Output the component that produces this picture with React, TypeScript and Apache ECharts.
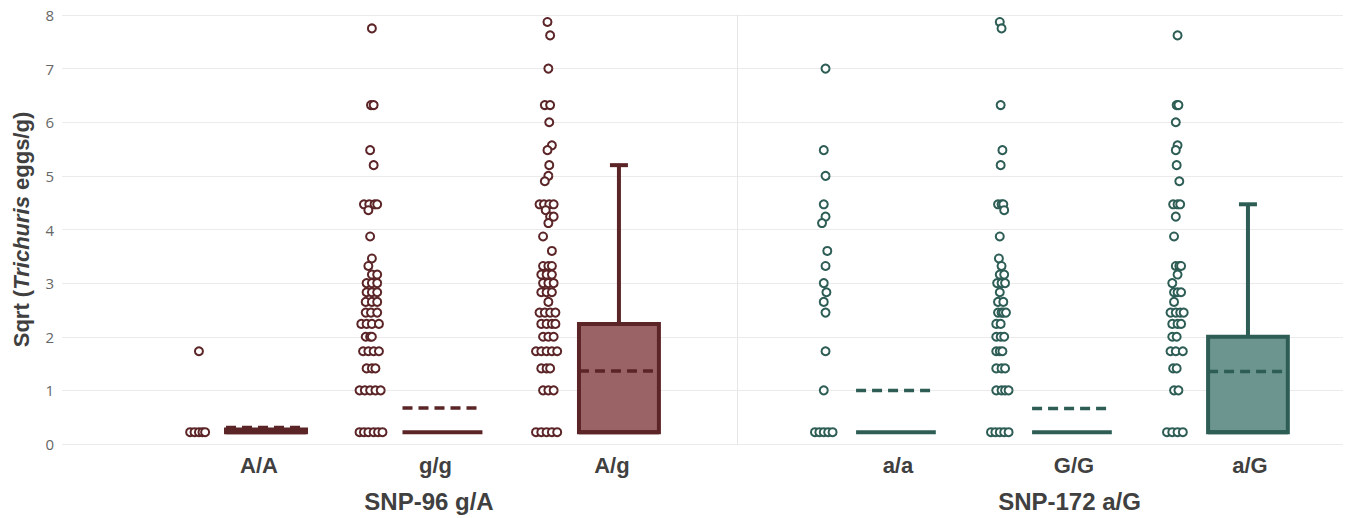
import React, { useEffect, useRef } from 'react';
import * as echarts from 'echarts';

// ---------- data ----------
const snp96Categories = ['A/A', 'g/g', 'A/g'];
const snp172Categories = ['a/a', 'G/G', 'a/G'];
const yTickMax = 8;

// box stats: [min, q1, median, q3, max, mean]
const snp96Boxes: number[][] = [
  [0.22, 0.22, 0.22, 0.27, 0.27, 0.31],
  [0.22, 0.22, 0.22, 0.22, 0.22, 0.67],
  [0.22, 0.22, 0.22, 2.24, 5.2, 1.36],
];
const snp172Boxes: number[][] = [
  [0.22, 0.22, 0.22, 0.22, 0.22, 1.0],
  [0.22, 0.22, 0.22, 0.22, 0.22, 0.66],
  [0.22, 0.22, 0.22, 2.0, 4.47, 1.35],
];

// points: [value, jitter offsets]
const ptsAA: [number, number[]][] = [
  [1.73, [0.02]],
  [0.22, [-0.03, -0.005, 0.02, 0.04, 0.055]],
];
const ptsgg: [number, number[]][] = [
  [7.75, [0]], [6.32, [-0.005, 0.01]], [5.48, [-0.01]], [5.2, [0.01]],
  [4.47, [-0.045, -0.015, 0.015, 0.03]], [4.36, [-0.02]], [3.87, [-0.01]],
  [3.46, [0.0]], [3.32, [-0.02]], [3.16, [0.0, 0.03]], [3.0, [-0.03, 0.0, 0.03]],
  [2.83, [-0.03, 0.0, 0.03]], [2.65, [-0.035, 0.0, 0.03]], [2.45, [-0.035, -0.005, 0.03]],
  [2.24, [-0.06, -0.03, 0.0, 0.04]], [2.0, [-0.035, -0.01, 0.0]],
  [1.73, [-0.05, -0.02, 0.01, 0.04]], [1.41, [-0.03, 0.0, 0.02]],
  [1.0, [-0.07, -0.04, -0.01, 0.02, 0.05]],
  [0.22, [-0.07, -0.045, -0.02, 0.01, 0.035, 0.06]],
];
const ptsAg: [number, number[]][] = [
  [7.87, [-0.005]], [7.62, [0.01]], [7.0, [0.0]], [6.32, [-0.02, 0.01]], [6.0, [0.005]],
  [5.57, [0.02]], [5.48, [-0.005]], [5.2, [0.005]], [5.0, [0.0]], [4.9, [-0.02]],
  [4.47, [-0.05, -0.025, 0.005, 0.03]], [4.36, [-0.015]], [4.24, [0.01, 0.03]], [4.12, [0.0]],
  [3.87, [-0.03]], [3.6, [0.02]], [3.32, [-0.03, 0.0, 0.02]], [3.16, [-0.04, -0.01, 0.02]],
  [3.0, [-0.03, 0.0, 0.03]], [2.83, [-0.04, -0.01, 0.02]], [2.65, [0.0]],
  [2.45, [-0.05, -0.02, 0.01, 0.04]], [2.24, [-0.04, -0.01, 0.02, 0.04]],
  [2.0, [-0.03, 0.0, 0.03]], [1.73, [-0.07, -0.04, -0.01, 0.02, 0.05]],
  [1.41, [-0.04, -0.01, 0.01]], [1.0, [-0.03, 0.0, 0.03]],
  [0.22, [-0.07, -0.04, -0.01, 0.02, 0.05]],
];
const ptsaa: [number, number[]][] = [
  [7.0, [0.0]], [5.48, [-0.01]], [5.0, [0.0]], [4.47, [-0.01]], [4.24, [0.0]], [4.12, [-0.02]],
  [3.6, [0.01]], [3.32, [0.0]], [3.0, [-0.01]], [2.83, [0.005]], [2.65, [-0.01]], [2.45, [0.0]],
  [1.73, [0.0]], [1.0, [-0.01]],
  [0.22, [-0.06, -0.035, -0.01, 0.015, 0.04]],
];
const ptsGG: [number, number[]][] = [
  [7.87, [-0.01]], [7.75, [0.0]], [6.32, [-0.005]], [5.48, [0.005]], [5.2, [-0.005]],
  [4.47, [-0.02, 0.0, 0.01]], [4.36, [0.015]], [3.87, [-0.01]], [3.46, [-0.015]], [3.32, [0.0]],
  [3.16, [-0.01, 0.015]], [3.0, [-0.025, 0.0, 0.02]], [2.83, [-0.01]], [2.65, [-0.02, 0.01]],
  [2.45, [-0.02, 0.0, 0.01, 0.025]], [2.24, [-0.03, -0.005]], [2.0, [-0.03, -0.005, 0.015]],
  [1.73, [-0.03, -0.01, 0.005]], [1.41, [-0.03, 0.0, 0.02]], [1.0, [-0.03, 0.0, 0.02, 0.04]],
  [0.22, [-0.06, -0.035, -0.01, 0.015, 0.04]],
];
const ptsaG: [number, number[]][] = [
  [7.62, [0.0]], [6.32, [-0.005, 0.005]], [6.0, [-0.01]], [5.57, [0.0]], [5.48, [-0.01]],
  [5.2, [-0.005]], [4.9, [0.01]], [4.47, [-0.025, 0.0, 0.015]], [4.24, [-0.01]], [3.87, [-0.02]],
  [3.32, [-0.01, 0.01, 0.02]], [3.16, [0.0]], [3.0, [-0.03]], [2.83, [-0.02, 0.0, 0.02]],
  [2.65, [-0.02]], [2.45, [-0.04, -0.01, 0.015, 0.035]], [2.24, [-0.03, 0.0, 0.02]],
  [2.0, [-0.03, -0.005]], [1.73, [-0.04, -0.01, 0.03]], [1.41, [-0.025, -0.005]],
  [1.0, [-0.02, 0.005]], [0.22, [-0.06, -0.03, 0.0, 0.03]],
];

// ---------- styling ----------
const MAROON = '#5b2427';
const MAROON_FILL = '#9a6366';
const GREEN = '#2d5d55';
const GREEN_FILL = '#6b958e';
const STRIP_OFFSET = -0.4;
const BOX_WIDTH = 0.453;

function stripData(groups: [number, number[]][][]) {
  const out: number[][] = [];
  groups.forEach((g, i) => {
    g.forEach(([v, dxs]) => {
      dxs.forEach((dx) => out.push([i + 1 + STRIP_OFFSET + dx, v]));
    });
  });
  return out;
}

function boxRender(stroke: string, fill: string) {
  return (params: any, api: any) => {
    const x = api.value(0);
    const q1 = api.value(2), md = api.value(3), q3 = api.value(4), mx = api.value(5), mean = api.value(6);
    const w = api.size([BOX_WIDTH, 0])[0];
    const cx = api.coord([x, md])[0];
    const y = (v: number) => api.coord([x, v])[1];
    const left = cx - w / 2, right = cx + w / 2;
    const children: any[] = [];
    if (mx > q3) {
      children.push({ type: 'line', shape: { x1: cx, y1: y(q3), x2: cx, y2: y(mx) }, style: { stroke, lineWidth: 4 } });
      children.push({ type: 'line', shape: { x1: cx - 9, y1: y(mx), x2: cx + 9, y2: y(mx) }, style: { stroke, lineWidth: 4 } });
    }
    if (q3 > q1) {
      children.push({ type: 'rect', shape: { x: left, y: y(q3), width: w, height: y(q1) - y(q3) }, style: { fill, stroke, lineWidth: 4 } });
    }
    children.push({ type: 'line', shape: { x1: left, y1: y(md), x2: right, y2: y(md) }, style: { stroke, lineWidth: 4 } });
    children.push({ type: 'line', shape: { x1: left, y1: y(mean), x2: right, y2: y(mean) }, style: { stroke, lineWidth: 3.5, lineDash: [10, 6] } });
    return { type: 'group', children };
  };
}

const catLabelStyle = {
  fontSize: 22,
  fontWeight: 'bold' as const,
  color: '#404040',
  fontFamily: 'Liberation Sans, Arial, sans-serif',
};
const titleStyle = {
  fontSize: 24,
  fontWeight: 'bold' as const,
  color: '#404040',
  fontFamily: 'Liberation Sans, Arial, sans-serif',
};

export default function App() {
  const ref = useRef<HTMLDivElement>(null);
  useEffect(() => {
    if (!ref.current) return;
    const chart = echarts.init(ref.current, null, { renderer: 'svg' });
    const yAxisBase = {
      type: 'value',
      min: 0,
      max: yTickMax,
      interval: 1,
      axisTick: { show: false },
      splitLine: { show: true, lineStyle: { color: '#ebebeb', width: 1 } },
    };
    chart.setOption({
      animation: false,
      backgroundColor: '#ffffff',
      grid: [
        { left: 62, top: 15, width: 675, height: 430 },
        { left: 737, top: 15, right: 3, height: 430 },
      ],
      xAxis: [
        {
          type: 'value', gridIndex: 0, min: -0.156, max: 3.669,
          splitLine: { show: false }, axisLine: { show: false }, axisTick: { show: false },
          axisLabel: {
            ...catLabelStyle, margin: 10, padding: [0, 14, 0, 0],
            customValues: [1, 2, 3],
            formatter: (v: number) => snp96Categories[Math.round(v) - 1] ?? '',
          },
          name: 'SNP-96 g/A', nameLocation: 'middle', nameGap: 45,
          nameTextStyle: { ...titleStyle, padding: [0, 0, 0, 59] },
        },
        {
          type: 'value', gridIndex: 1, min: 0.097, max: 3.54,
          splitLine: { show: false }, axisLine: { show: false }, axisTick: { show: false },
          axisLabel: {
            ...catLabelStyle, margin: 10, padding: [0, 0, 0, 4],
            customValues: [1, 2, 3],
            formatter: (v: number) => snp172Categories[Math.round(v) - 1] ?? '',
          },
          name: 'SNP-172 a/G', nameLocation: 'middle', nameGap: 45,
          nameTextStyle: { ...titleStyle, padding: [0, 0, 0, 59] },
        },
      ],
      yAxis: [
        {
          ...yAxisBase, gridIndex: 0,
          axisLine: { show: false },
          axisLabel: { color: '#666666', fontSize: 15, fontFamily: 'Open Sans, sans-serif', margin: 8 },
          name: 'Sqrt ({i|Trichuris} eggs/g)',
          nameLocation: 'middle',
          nameGap: 30,
          nameTextStyle: {
            fontSize: 22, fontWeight: 'bold', color: '#404040',
            fontFamily: 'Liberation Sans, Arial, sans-serif',
            rich: {
              i: { fontSize: 22, fontWeight: 'bold', fontStyle: 'italic', color: '#404040', fontFamily: 'Liberation Sans, Arial, sans-serif' },
            },
          },
        },
        {
          ...yAxisBase, gridIndex: 1,
          axisLine: { show: true, lineStyle: { color: '#e6e6e6', width: 1 } },
          axisLabel: { show: false },
        },
      ],
      series: [
        {
          type: 'custom', xAxisIndex: 0, yAxisIndex: 0,
          renderItem: boxRender(MAROON, MAROON_FILL),
          encode: { x: 0, y: [1, 2, 3, 4, 5, 6] },
          data: snp96Boxes.map((b, i) => [i + 1, ...b]),
          z: 2,
        },
        {
          type: 'custom', xAxisIndex: 1, yAxisIndex: 1,
          renderItem: boxRender(GREEN, GREEN_FILL),
          encode: { x: 0, y: [1, 2, 3, 4, 5, 6] },
          data: snp172Boxes.map((b, i) => [i + 1, ...b]),
          z: 2,
        },
        {
          type: 'scatter', xAxisIndex: 0, yAxisIndex: 0,
          symbol: 'circle', symbolSize: 8,
          itemStyle: { color: '#ffffff', borderColor: MAROON, borderWidth: 2, opacity: 1 },
          data: stripData([ptsAA, ptsgg, ptsAg]),
          z: 3,
        },
        {
          type: 'scatter', xAxisIndex: 1, yAxisIndex: 1,
          symbol: 'circle', symbolSize: 8,
          itemStyle: { color: '#ffffff', borderColor: GREEN, borderWidth: 2, opacity: 1 },
          data: stripData([ptsaa, ptsGG, ptsaG]),
          z: 3,
        },
      ],
    });
    return () => chart.dispose();
  }, []);
  return (
    <div
      ref={ref}
      style={{ position: 'fixed', left: 0, top: 0, width: 1346, height: 518, background: '#fff' }}
    />
  );
}
